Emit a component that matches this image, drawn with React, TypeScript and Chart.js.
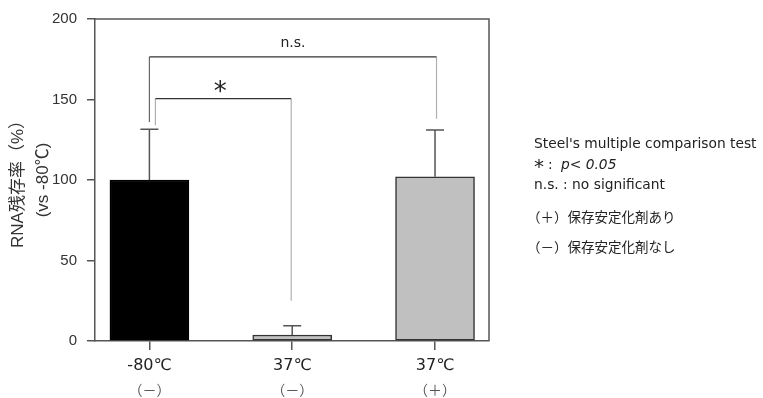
import React, { useEffect, useRef } from "react";
import { Chart, registerables } from "chart.js";

Chart.register(...registerables);

const categories = ["-80℃", "37℃", "37℃"];
const subLabels = ["（－）", "（－）", "（＋）"];
const values = [100, 3.7, 102];
const errors = [31.5, 5.8, 29];
const barColors = ["#000000", "#c0c0c0", "#c0c0c0"];
const barBorders = ["#000000", "#333333", "#333333"];

const yTicks = [0, 50, 100, 150, 200];

const bracketLabels = ["n.s.", "*"];
const bracketFrom = [0, 0];
const bracketTo = [2, 1];
const bracketLevel = [176.5, 150.5];
const bracketLeftEnd = [136, 134];
const bracketRightEnd = [138, 25];

const noteLines = [
  "Steel's multiple comparison test",
  "n.s. : no significant",
];
const signifNote = ["*", ": ", "p< 0.05"];
const stabilizerNotes = ["（＋）保存安定化剤あり", "（－）保存安定化剤なし"];

const annotPlugin = {
  id: "annot",
  afterDatasetsDraw(chart: any) {
    const { ctx, chartArea: ca, scales } = chart;
    const x = scales.x;
    const y = scales.y;
    const meta = chart.getDatasetMeta(0);
    ctx.save();
    ctx.strokeStyle = "#555";
    ctx.lineWidth = 1.5;
    ctx.beginPath();
    ctx.moveTo(ca.left, ca.top);
    ctx.lineTo(ca.right, ca.top);
    ctx.lineTo(ca.right, ca.bottom);
    ctx.stroke();

    // error bars
    ctx.strokeStyle = "#555";
    ctx.lineWidth = 1.5;
    meta.data.forEach((bar: any, i: number) => {
      const bx = bar.x;
      const yb = y.getPixelForValue(values[i]);
      const yt = y.getPixelForValue(values[i] + errors[i]);
      ctx.beginPath();
      ctx.moveTo(bx, yb);
      ctx.lineTo(bx, yt);
      ctx.moveTo(bx - 9, yt);
      ctx.lineTo(bx + 9, yt);
      ctx.stroke();
    });

    // brackets
    bracketLabels.forEach((lab, k) => {
      const leftOff = k === 0 ? 0 : 6;
      const rightOff = k === 0 ? 1.5 : -1;
      const x1 = x.getPixelForValue(bracketFrom[k]) + leftOff;
      const x2 = x.getPixelForValue(bracketTo[k]) + rightOff;
      const yl = y.getPixelForValue(bracketLevel[k]);
      const yle = y.getPixelForValue(bracketLeftEnd[k]);
      const yre = y.getPixelForValue(bracketRightEnd[k]);
      ctx.lineWidth = 1.2;
      ctx.strokeStyle = k === 0 ? "#666" : "#b0b0b0";
      ctx.beginPath();
      ctx.moveTo(x1, yle);
      ctx.lineTo(x1, yl);
      ctx.stroke();
      ctx.strokeStyle = "#b0b0b0";
      ctx.beginPath();
      ctx.moveTo(x2, yl);
      ctx.lineTo(x2, yre);
      ctx.stroke();
      ctx.strokeStyle = "#333";
      ctx.beginPath();
      ctx.moveTo(x1, yl);
      ctx.lineTo(x2, yl);
      ctx.stroke();
      ctx.fillStyle = "#222";
      ctx.textAlign = "center";
      ctx.textBaseline = "middle";
      const mid = (x1 + x2) / 2;
      if (lab === "*") {
        ctx.font = "26px 'DejaVu Sans'";
        ctx.fillText(lab, mid - 3, yl - 5);
      } else {
        ctx.font = "14px 'DejaVu Sans'";
        ctx.fillText(lab, mid, yl - 13);
      }
    });

    // sub labels under categories
    ctx.font = "14px 'Noto Sans CJK JP'";
    ctx.fillStyle = "#555";
    ctx.textAlign = "center";
    ctx.textBaseline = "middle";
    subLabels.forEach((s, i) => {
      ctx.fillText(s, x.getPixelForValue(i), 390);
    });

    // notes on the right
    ctx.textAlign = "left";
    ctx.textBaseline = "middle";
    ctx.fillStyle = "#222";
    ctx.font = "13.8px 'DejaVu Sans'";
    ctx.fillText(noteLines[0], 534, 144);
    ctx.font = "20px 'DejaVu Sans'";
    ctx.fillText(signifNote[0], 534, 168);
    ctx.font = "13.8px 'DejaVu Sans'";
    ctx.fillText(signifNote[1], 548, 165);
    ctx.font = "italic 13.8px 'DejaVu Sans'";
    ctx.fillText(signifNote[2], 561, 165);
    ctx.font = "13.8px 'DejaVu Sans'";
    ctx.fillText(noteLines[1], 534, 185);
    ctx.font = "13.5px 'Noto Sans CJK JP'";
    ctx.fillText(stabilizerNotes[0], 527, 217);
    ctx.fillText(stabilizerNotes[1], 527, 247);
    ctx.restore();
  },
};

export default function App() {
  const ref = useRef<HTMLCanvasElement | null>(null);
  useEffect(() => {
    if (!ref.current) return;
    const chart = new Chart(ref.current, {
      type: "bar",
      data: {
        datasets: [
          {
            data: values.map((v, i) => ({ x: i, y: v })),
            backgroundColor: barColors,
            borderColor: barBorders,
            borderWidth: 1.5,
            barThickness: 79,
            borderSkipped: false,
          } as any,
        ],
      },
      options: {
        responsive: true,
        maintainAspectRatio: false,
        animation: false,
        layout: { padding: { top: 18, right: 274, left: 0, bottom: 0 } },
        plugins: { legend: { display: false }, tooltip: { enabled: false } },
        scales: {
          x: {
            type: "linear",
            offset: false,
            min: -0.381,
            max: 2.378,
            afterBuildTicks: (scale: any) => {
              scale.ticks = categories.map((_, i) => ({ value: i }));
            },
            afterFit: (scale: any) => {
              scale.height = 57;
            },
            ticks: {
              autoSkip: false,
              maxRotation: 0,
              padding: 6,
              color: "#222",
              font: { family: "'DejaVu Sans', 'Noto Sans CJK JP'", size: 16 },
              callback: (v: any) => categories[v as number] ?? "",
            },
            grid: {
              offset: false,
              drawOnChartArea: false,
              drawTicks: true,
              tickLength: 9,
              color: "#555",
              lineWidth: 1.5,
            },
            border: { display: true, color: "#555", width: 1.5 },
          },
          y: {
            min: 0,
            max: 200,
            afterBuildTicks: (scale: any) => {
              scale.ticks = yTicks.map((v) => ({ value: v }));
            },
            afterFit: (scale: any) => {
              scale.width = 95;
            },
            ticks: {
              padding: 10,
              color: "#333",
              font: { family: "'Liberation Sans', Arial", size: 15 },
            },
            grid: {
              drawOnChartArea: false,
              drawTicks: true,
              tickLength: 8,
              color: "#555",
              lineWidth: 1.5,
            },
            border: { display: true, color: "#555", width: 1.5 },
            title: {
              display: true,
              text: ["RNA残存率（%）", "(vs -80℃)"],
              color: "#333",
              padding: { top: 6, bottom: 0 },
              font: {
                family: "'Liberation Sans', 'Noto Sans CJK JP'",
                size: 17,
                lineHeight: 1.45,
              },
            },
          },
        },
      },
      plugins: [annotPlugin],
    });
    return () => chart.destroy();
  }, []);
  return (
    <div style={{ position: "absolute", left: 0, top: 0, width: 763, height: 398 }}>
      <canvas ref={ref} />
    </div>
  );
}
